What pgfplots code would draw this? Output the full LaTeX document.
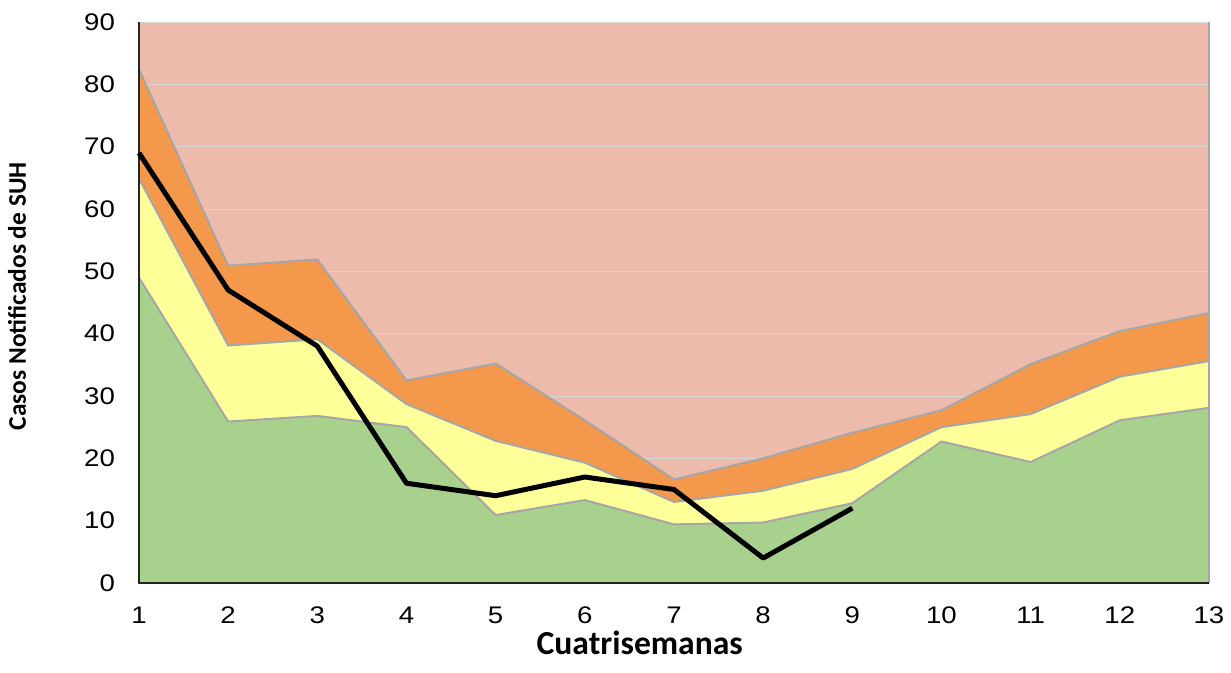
\documentclass[border=0pt]{standalone}
\usepackage{fontspec}
\setmainfont{Liberation Sans}
\newfontfamily\calibri{Carlito}
\usepackage{pgfplots}
\pgfplotsset{compat=1.18}
\definecolor{rojo}{RGB}{236,187,172}
\definecolor{naranja}{RGB}{244,153,75}
\definecolor{amarillo}{RGB}{255,255,153}
\definecolor{verde}{RGB}{169,209,142}
\definecolor{borde}{RGB}{166,166,166}

% percentiles (acumulados) y casos observados
\pgfplotstableread{
x  exito  seguridad  alerta
1  49.0   64.9   82.4
2  25.9   38.1   50.9
3  26.8   39.1   51.9
4  25.0   28.7   32.5
5  10.9   22.8   35.2
6  13.3   19.3   26.1
7   9.4   13.0   16.6
8   9.7   14.8   20.0
9  12.8   18.3   24.1
10 22.7   25.0   27.7
11 19.4   27.1   35.1
12 26.1   33.1   40.4
13 28.1   35.6   43.3
}\canal
\pgfplotstableread{
x  casos
1  69
2  47
3  38
4  16
5  14
6  17
7  15
8  4
9  12
}\casos

\begin{document}
\begin{tikzpicture}
\begin{axis}[
  scale only axis, width=535pt, height=280.5pt,
  xmin=1, xmax=13, ymin=0, ymax=90,
  xtick={1,...,13}, ytick={0,10,...,90},
  tick style={draw=none},
  clip=false,
  axis background/.style={fill=rojo},
  ymajorgrids, grid style={borde!45, line width=0.4pt},
  axis x line*=bottom, axis y line*=left,
  axis line style={draw=none},
  /pgf/number format/assume math mode=true,
  ticklabel style={font=\fontsize{12}{14}\selectfont},
  xticklabel={\scalebox{1.15}[1]{\pgfmathprintnumber{\tick}}},
  yticklabel={\scalebox{1.15}[1]{\pgfmathprintnumber{\tick}}},
  xticklabel style={anchor=center, yshift=-16pt},
  yticklabel style={anchor=east, xshift=-8.5pt},
  xlabel={Cuatrisemanas},
  ylabel={Casos Notificados de SUH},
  xlabel style={font=\calibri\bfseries\fontsize{16.8}{19}\selectfont, at={(axis description cs:0.468,-0.107)}, anchor=center},
  ylabel style={font=\calibri\bfseries\fontsize{12.7}{15}\selectfont, at={(axis description cs:-0.114,0.511)}, anchor=center},
]
\addplot[fill=naranja, draw=none] table[x=x, y=alerta] {\canal} \closedcycle;
\addplot[fill=amarillo, draw=none] table[x=x, y=seguridad] {\canal} \closedcycle;
\addplot[fill=verde, draw=none] table[x=x, y=exito] {\canal} \closedcycle;
\addplot[borde, line width=1pt] table[x=x, y=alerta] {\canal};
\addplot[borde, line width=1pt] table[x=x, y=seguridad] {\canal};
\addplot[borde, line width=1pt] table[x=x, y=exito] {\canal};
\addplot[borde, line width=1pt] coordinates {(13,0) (13,90)};
\addplot[black!85, line width=0.6pt] coordinates {(1,90) (1,0) (13,0)};
\addplot[black, line width=2.5pt, line join=round] table[x=x, y=casos] {\casos};
\end{axis}
\path (current axis.south west) ++(-69.5pt,-45pt) rectangle ([shift={(11pt,11pt)}]current axis.north east);
\end{tikzpicture}
\end{document}
